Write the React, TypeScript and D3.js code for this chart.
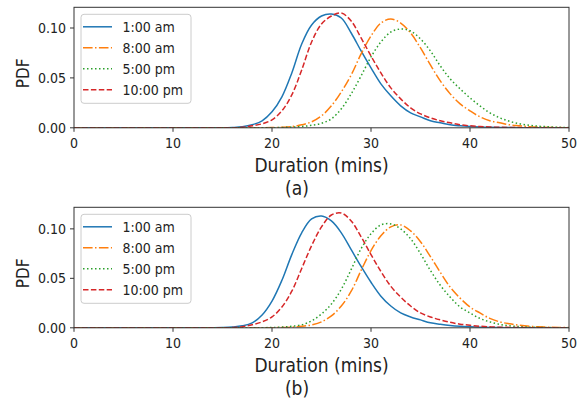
import React, { useEffect } from "react";
import * as d3 from "d3";

// sample grid (minutes) and PDF values
const MINUTES = [
  0, 1, 2, 3, 4, 5, 6, 7, 8, 9, 10, 11, 12, 13, 14, 15, 16, 17, 18, 19, 20, 21, 22, 23, 24, 25,
  26, 27, 28, 29, 30, 31, 32, 33, 34, 35, 36, 37, 38, 39, 40, 41, 42, 43, 44, 45, 46, 47, 48, 49, 50,
];

const LABELS = ["1:00 am", "8:00 am", "5:00 pm", "10:00 pm"];
const COLORS = ["#1f77b4", "#ff7f0e", "#2ca02c", "#d62728"];
const DASHES = ["none", "9.6,2.4,1.5,2.4", "1.5,2.5", "5.5,2.4"];

// panel (a)
const A_1AM = [
  0, 0, 0, 0, 0, 0, 0, 0, 0, 0,
  0, 0, 0, 0, 0, 0, 0.0003, 0.001, 0.003, 0.007,
  0.016, 0.031, 0.055, 0.084, 0.103, 0.112, 0.114, 0.11, 0.095, 0.077,
  0.06, 0.044, 0.032, 0.022, 0.015, 0.011, 0.007, 0.005, 0.003, 0.002,
  0.0013, 0.0008, 0.0005, 0.0003, 0.0002, 0.0001, 0, 0, 0, 0,
  0,
];
const A_8AM = [
  0, 0, 0, 0, 0, 0, 0, 0, 0, 0,
  0, 0, 0, 0, 0, 0, 0, 0, 0, 0.0001,
  0.0002, 0.0005, 0.0012, 0.003, 0.006, 0.012, 0.022, 0.036, 0.053, 0.074,
  0.092, 0.105, 0.109, 0.105, 0.095, 0.08, 0.063, 0.047, 0.034, 0.024,
  0.017, 0.011, 0.007, 0.005, 0.003, 0.002, 0.001, 0.0006, 0.0003, 0.0002,
  0.0001,
];
const A_5PM = [
  0, 0, 0, 0, 0, 0, 0, 0, 0, 0,
  0, 0, 0, 0, 0, 0, 0, 0, 0, 0,
  0.0001, 0.0003, 0.0007, 0.0013, 0.0025, 0.0045, 0.009, 0.019, 0.034, 0.052,
  0.071, 0.086, 0.096, 0.099, 0.097, 0.089, 0.077, 0.062, 0.049, 0.039,
  0.03, 0.022, 0.015, 0.01, 0.0065, 0.004, 0.0025, 0.0015, 0.001, 0.0005,
  0.0003,
];
const A_10PM = [
  0, 0, 0, 0, 0, 0, 0, 0, 0, 0,
  0, 0, 0, 0, 0, 0, 0, 0.0005, 0.002, 0.004,
  0.008, 0.017, 0.033, 0.058, 0.086, 0.104, 0.112, 0.115, 0.107, 0.09,
  0.072, 0.055, 0.04, 0.029, 0.02, 0.014, 0.01, 0.007, 0.005, 0.003,
  0.002, 0.0013, 0.0008, 0.0005, 0.0003, 0.0002, 0.0001, 0, 0, 0,
  0,
];

// panel (b)
const B_1AM = [
  0, 0, 0, 0, 0, 0, 0, 0, 0, 0,
  0, 0, 0, 0, 0.0001, 0.0003, 0.0008, 0.002, 0.005, 0.013,
  0.027, 0.048, 0.074, 0.096, 0.11, 0.113, 0.108, 0.096, 0.079, 0.062,
  0.046, 0.032, 0.022, 0.015, 0.011, 0.008, 0.005, 0.0035, 0.0023, 0.0015,
  0.001, 0.0006, 0.0004, 0.0002, 0.0001, 0, 0, 0, 0, 0,
  0,
];
const B_8AM = [
  0, 0, 0, 0, 0, 0, 0, 0, 0, 0,
  0, 0, 0, 0, 0, 0, 0, 0, 0, 0,
  0.0001, 0.0003, 0.0007, 0.0015, 0.003, 0.006, 0.012, 0.022, 0.037, 0.058,
  0.078, 0.093, 0.102, 0.104, 0.098, 0.087, 0.072, 0.056, 0.041, 0.03,
  0.021, 0.015, 0.0095, 0.006, 0.004, 0.0025, 0.0015, 0.001, 0.0006, 0.0003,
  0.0002,
];
const B_5PM = [
  0, 0, 0, 0, 0, 0, 0, 0, 0, 0,
  0, 0, 0, 0, 0, 0, 0, 0, 0, 0.0001,
  0.0003, 0.0007, 0.0015, 0.003, 0.007, 0.014, 0.024, 0.039, 0.059, 0.08,
  0.095, 0.104, 0.105, 0.1, 0.09, 0.075, 0.058, 0.043, 0.031, 0.021,
  0.015, 0.0095, 0.006, 0.0035, 0.002, 0.0012, 0.0007, 0.0004, 0.0002, 0.0001,
  0.0001,
];
const B_10PM = [
  0, 0, 0, 0, 0, 0, 0, 0, 0, 0,
  0, 0, 0, 0, 0, 0, 0.0003, 0.001, 0.003, 0.006,
  0.011, 0.021, 0.037, 0.06, 0.083, 0.102, 0.114, 0.116, 0.108, 0.092,
  0.074, 0.057, 0.042, 0.031, 0.022, 0.015, 0.011, 0.008, 0.0055, 0.0037,
  0.0025, 0.0016, 0.001, 0.0006, 0.0004, 0.0002, 0.0001, 0, 0, 0,
  0,
];

const X_TICKS = [0, 10, 20, 30, 40, 50];
const Y_TICKS = [0, 0.05, 0.1];

const WIDTH = 584;
const HEIGHT = 402;
const LEFT = 74;
const PLOT_W = 495;
const PLOT_H = 120.5;
const FONT = "'DejaVu Sans', 'Liberation Sans', sans-serif";

type PanelProps = {
  top: number;
  series: number[][];
  caption: string;
  id: string;
};

const Panel = ({ top, series, caption, id }: PanelProps) => {
  const x = d3.scaleLinear().domain([0, 50]).range([LEFT, LEFT + PLOT_W]);
  const ymax = (d3.max(series, (s) => d3.max(s)) as number) * 1.05;
  const y = d3
    .scaleLinear()
    .domain([0, ymax])
    .range([top + PLOT_H, top]);

  const line = d3
    .line<number>()
    .x((_, i) => x(MINUTES[i]))
    .y((d) => y(Math.max(0, d)))
    .curve(d3.curveCatmullRom.alpha(0.5));

  const bottom = top + PLOT_H;
  const textStyle = { fontFamily: FONT, fontStretch: "condensed" as const };
  const legendTop = top + 7;

  return (
    <g>
      <defs>
        <clipPath id={`clip-${id}`}>
          <rect x={LEFT} y={top} width={PLOT_W} height={PLOT_H} />
        </clipPath>
      </defs>

      <g clipPath={`url(#clip-${id})`}>
        {series.map((s, i) => (
          <path
            key={LABELS[i]}
            d={line(s) || ""}
            fill="none"
            stroke={COLORS[i]}
            strokeWidth={1.5}
            strokeDasharray={DASHES[i]}
          />
        ))}
      </g>

      <rect
        x={LEFT}
        y={top}
        width={PLOT_W}
        height={PLOT_H}
        fill="none"
        stroke="#333"
        strokeWidth={1}
      />

      {X_TICKS.map((t) => (
        <g key={`x${t}`}>
          <line x1={x(t)} x2={x(t)} y1={bottom} y2={bottom + 4} stroke="#333" />
          <text
            x={x(t)}
            y={bottom + 20}
            textAnchor="middle"
            fontSize={14}
            fill="#222"
            style={textStyle}
          >
            {t}
          </text>
        </g>
      ))}

      {Y_TICKS.map((t) => (
        <g key={`y${t}`}>
          <line x1={LEFT - 4} x2={LEFT} y1={y(t)} y2={y(t)} stroke="#333" />
          <text
            x={LEFT - 8}
            y={y(t)}
            dy="0.36em"
            textAnchor="end"
            fontSize={14}
            fill="#222"
            style={textStyle}
          >
            {d3.format(".2f")(t)}
          </text>
        </g>
      ))}

      <text
        x={LEFT + PLOT_W / 2}
        y={bottom + 44}
        textAnchor="middle"
        fontSize={19}
        fill="#222"
        style={textStyle}
      >
        Duration (mins)
      </text>
      <text
        x={297}
        y={bottom + 67}
        textAnchor="middle"
        fontSize={19}
        fill="#222"
        style={textStyle}
      >
        {caption}
      </text>
      <text
        transform={`translate(23,${top + 66}) rotate(-90)`}
        textAnchor="middle"
        dy="0.36em"
        fontSize={17}
        fill="#222"
        style={textStyle}
      >
        PDF
      </text>

      <rect
        x={81}
        y={legendTop}
        width={110}
        height={89}
        rx={3}
        fill="white"
        fillOpacity={0.8}
        stroke="#cccccc"
        strokeWidth={1}
      />
      {LABELS.map((lab, i) => {
        const ly = legendTop + 12.5 + i * 21;
        return (
          <g key={lab}>
            <line
              x1={83}
              x2={112}
              y1={ly}
              y2={ly}
              stroke={COLORS[i]}
              strokeWidth={1.5}
              strokeDasharray={DASHES[i]}
            />
            <text
              x={122.5}
              y={ly}
              dy="0.36em"
              fontSize={14}
              fill="#222"
              style={textStyle}
            >
              {lab}
            </text>
          </g>
        );
      })}
    </g>
  );
};

const App = () => {
  useEffect(() => {
    document.body.style.margin = "0";
  }, []);

  return (
    <svg
      width={WIDTH}
      height={HEIGHT}
      style={{ display: "block", background: "white" }}
    >
      <Panel top={7.3} series={[A_1AM, A_8AM, A_5PM, A_10PM]} caption="(a)" id="a" />
      <Panel top={207.3} series={[B_1AM, B_8AM, B_5PM, B_10PM]} caption="(b)" id="b" />
    </svg>
  );
};

export default App;
